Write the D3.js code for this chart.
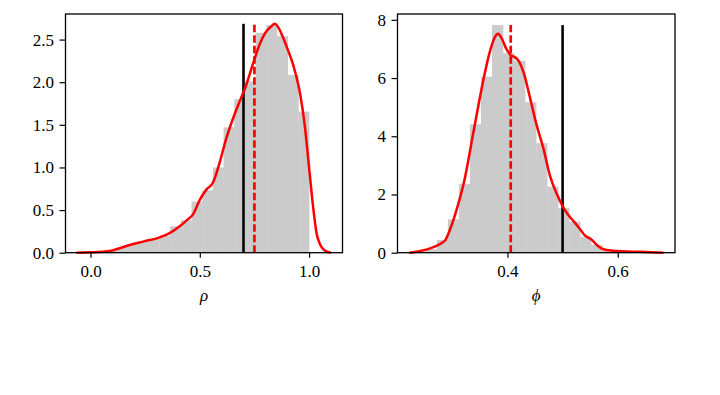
<!DOCTYPE html>
<html>
<head>
<meta charset="utf-8">
<script src="https://cdn.jsdelivr.net/npm/d3@7/dist/d3.min.js"></script>
<style>
	body { margin: 0; background: #fff; }
	text { font-family: "Liberation Serif", "DejaVu Serif", serif; fill: #000; }
</style>
</head>
<body>
<svg id="chart" width="720" height="395"></svg>
<script>
	// ----- data -----
	// rho panel
	const rhoBinStart = 0.022;
	const rhoBinWidth = 0.0489;
	const rhoHist = [0.01, 0.03, 0.06, 0.10, 0.13, 0.16, 0.20, 0.31, 0.38, 0.60,
		0.73, 1.00, 1.47, 1.80, 2.01, 2.58, 2.67, 2.54, 2.085, 1.655];
	const rhoKdeX = [-0.065, 0.0, 0.087, 0.13, 0.179, 0.24, 0.316, 0.362, 0.408, 0.44,
		0.469, 0.50, 0.53, 0.56, 0.59, 0.62, 0.65, 0.68, 0.71, 0.744, 0.775, 0.80,
		0.825, 0.843, 0.86, 0.88, 0.90, 0.93, 0.96, 0.98, 1.00, 1.018, 1.035, 1.05, 1.07, 1.10];
	const rhoKdeY = [0, 0.005, 0.02, 0.05, 0.09, 0.13, 0.18, 0.23, 0.31, 0.38,
		0.45, 0.62, 0.74, 0.82, 1.05, 1.33, 1.56, 1.76, 1.95, 2.22, 2.45, 2.58,
		2.65, 2.685, 2.64, 2.53, 2.40, 2.18, 1.85, 1.50, 1.00, 0.55, 0.22, 0.10, 0.03, 0];
	const rhoTrue = 0.70;
	const rhoMean = 0.75;
	const rhoLineTop = 2.685;
	const rhoTicksX = [0, 0.5, 1.0];
	const rhoTicksY = [0, 0.5, 1.0, 1.5, 2.0, 2.5];

	// phi panel
	const phiBinStart = 0.232;
	const phiBinWidth = 0.02;
	const phiHist = [0.03, 0.12, 0.44, 1.15, 2.36, 4.41, 6.05, 7.82, 6.85, 6.59,
		5.17, 3.76, 2.27, 1.53, 1.07, 0.55, 0.27, 0.08, 0.04, 0.02, 0.01, 0.01];
	const phiKdeX = [0.222, 0.24, 0.26, 0.278, 0.288, 0.297, 0.309, 0.321, 0.338, 0.356,
		0.368, 0.377, 0.383, 0.39, 0.398, 0.405, 0.413, 0.42, 0.43, 0.44, 0.452, 0.465,
		0.477, 0.49, 0.50, 0.51, 0.52, 0.53, 0.54, 0.553, 0.563, 0.574, 0.59, 0.61, 0.64, 0.683];
	const phiKdeY = [0, 0.05, 0.15, 0.30, 0.45, 0.85, 1.55, 2.40, 4.10, 5.90,
		6.90, 7.40, 7.52, 7.35, 7.00, 6.80, 6.72, 6.60, 6.15, 5.40, 4.45, 3.60,
		2.65, 2.00, 1.60, 1.30, 1.08, 0.85, 0.60, 0.44, 0.25, 0.12, 0.07, 0.05, 0.03, 0];
	const phiTrue = 0.50;
	const phiMean = 0.406;
	const phiLineTop = 7.82;
	const phiTicksX = [0.4, 0.6];
	const phiTicksY = [0, 2, 4, 6, 8];

(function(){
	// ----- layout -----
	const plotTop = 14, plotBottom = 252.7;
	const fontFamily = "'Liberation Serif', 'DejaVu Serif', serif";
	const svg = d3.select("#chart");
	svg.append("rect").attr("width", 720).attr("height", 395).attr("fill", "#fff");

	const panels = [
		{
			left: 65.5, right: 342.5, xDomain: [-0.1145, 1.153], yDomain: [0, 2.80],
			binStart: rhoBinStart, binWidth: rhoBinWidth, hist: rhoHist,
			kdeX: rhoKdeX, kdeY: rhoKdeY, trueVal: rhoTrue, meanVal: rhoMean, lineTop: rhoLineTop,
			ticksX: rhoTicksX, ticksY: rhoTicksY, fmtX: d3.format(".1f"), fmtY: d3.format(".1f"),
			label: "ρ"
		},
		{
			left: 397.5, right: 675, xDomain: [0.2007, 0.7038], yDomain: [0, 8.2],
			binStart: phiBinStart, binWidth: phiBinWidth, hist: phiHist,
			kdeX: phiKdeX, kdeY: phiKdeY, trueVal: phiTrue, meanVal: phiMean, lineTop: phiLineTop,
			ticksX: phiTicksX, ticksY: phiTicksY, fmtX: d3.format(".1f"), fmtY: d3.format("d"),
			label: "ϕ"
		}
	];

	panels.forEach(p => {
		const x = d3.scaleLinear().domain(p.xDomain).range([p.left, p.right]);
		const y = d3.scaleLinear().domain(p.yDomain).range([plotBottom, plotTop]);

		const g = svg.append("g");

		// histogram
		g.selectAll(".bar")
			.data(p.hist)
			.enter().append("rect")
				.attr("class", "bar")
				.attr("x", (d, i) => x(p.binStart + i * p.binWidth))
				.attr("width", (d, i) => x(p.binStart + (i + 1) * p.binWidth) - x(p.binStart + i * p.binWidth) + 0.3)
				.attr("y", d => y(d))
				.attr("height", d => y(0) - y(d))
				.attr("fill", "#cbcbcb");

		// vertical markers
		g.append("line")
				.attr("x1", x(p.trueVal)).attr("x2", x(p.trueVal))
				.attr("y1", y(0)).attr("y2", y(p.lineTop))
				.attr("stroke", "#000")
				.attr("stroke-width", 2.6);

		g.append("line")
				.attr("x1", x(p.meanVal)).attr("x2", x(p.meanVal))
				.attr("y1", y(0)).attr("y2", y(p.lineTop))
				.attr("stroke", "#ff0000")
				.attr("stroke-width", 2.7)
				.attr("stroke-dasharray", "7.5,3");

		// kde
		const pts = p.kdeX.map((v, i) => [v, p.kdeY[i]]);
		g.append("path")
				.datum(pts)
				.attr("fill", "none")
				.attr("stroke", "#ff0000")
				.attr("stroke-width", 2.5)
				.attr("stroke-linejoin", "round")
				.attr("d", d3.line()
					.x(d => x(d[0]))
					.y(d => y(d[1]))
					.curve(d3.curveMonotoneX));

		// axes
		const xAxis = g.append("g")
				.attr("transform", `translate(0, ${plotBottom})`)
				.call(d3.axisBottom(x).tickValues(p.ticksX).tickFormat(p.fmtX)
					.tickSize(5).tickPadding(7));
		const yAxis = g.append("g")
				.attr("transform", `translate(${p.left}, 0)`)
				.call(d3.axisLeft(y).tickValues(p.ticksY).tickFormat(p.fmtY)
					.tickSize(6).tickPadding(5.5));

		[xAxis, yAxis].forEach(a => {
			a.attr("font-family", fontFamily).attr("font-size", 17);
			a.select(".domain").remove();
			a.selectAll("line").attr("stroke", "#000").attr("stroke-width", 1.2);
			a.selectAll("text")
				.style("font-family", fontFamily)
				.style("font-size", "17px")
				.attr("fill", "#000");
		});

		// frame
		g.append("rect")
				.attr("x", p.left).attr("y", plotTop)
				.attr("width", p.right - p.left).attr("height", plotBottom - plotTop)
				.attr("fill", "none")
				.attr("stroke", "#000")
				.attr("stroke-width", 1.3);

		// axis label
		g.append("text")
				.attr("x", (p.left + p.right) / 2)
				.attr("y", 301)
				.attr("text-anchor", "middle")
				.style("font-family", fontFamily)
				.style("font-style", "italic")
				.style("font-size", "17px")
				.text(p.label);
	});
}());
</script>
</body>
</html>
